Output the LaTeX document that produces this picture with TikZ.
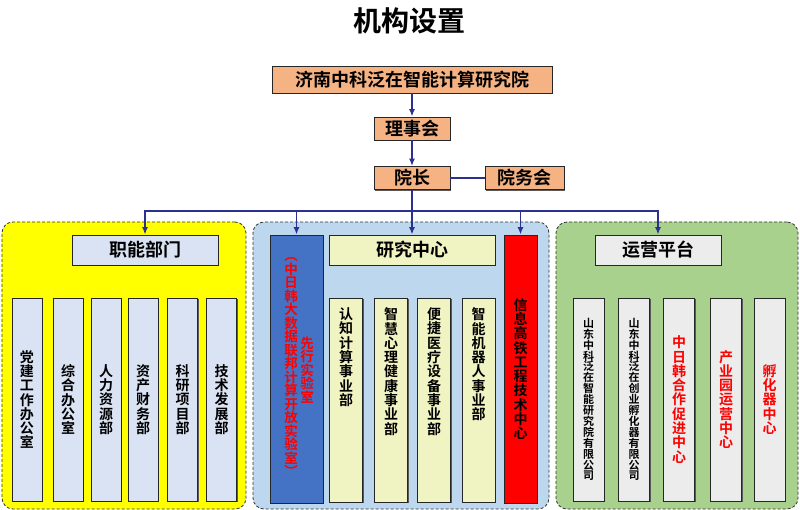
\documentclass[tikz,border=0pt]{standalone}
\usepackage{fontspec}
\setmainfont{Noto Sans CJK SC}[BoldFont={Noto Sans CJK SC Bold}]
\usetikzlibrary{arrows.meta,shadows}
\definecolor{leadorange}{RGB}{245,178,131}
\definecolor{navyline}{RGB}{44,48,142}
\definecolor{fnyellow}{RGB}{255,255,0}
\definecolor{rsblue}{RGB}{189,215,238}
\definecolor{opgreen}{RGB}{169,209,142}
\definecolor{paleblue}{RGB}{218,227,243}
\definecolor{paleyellow}{RGB}{240,243,194}
\definecolor{palegray}{RGB}{236,236,236}
\definecolor{labblue}{RGB}{68,114,196}
\newcommand{\headfont}{\bfseries\fontsize{18}{20}\selectfont}
\newcommand{\colfont}{\bfseries\fontsize{14}{14.3}\selectfont}
\newcommand{\smallcolfont}{\bfseries\fontsize{11}{10.9}\selectfont}
% one character per line
\makeatletter
\def\vt@go{\@tfor\vt@c:=}
\newcommand{\vtxt}[1]{%
  \edef\vt@list{#1}\gdef\vt@sep{}%
  \expandafter\vt@go\vt@list\do{\vt@sep\vt@c\gdef\vt@sep{\\}}}
\makeatother
\tikzset{
  unit/.style={draw=black!85,line width=0.8pt,inner sep=0pt,align=center,
    drop shadow={shadow xshift=1.3pt,shadow yshift=-1.3pt,fill=black!65,opacity=1}},
  lead/.style={unit,fill=leadorange,minimum height=23pt,font=\headfont},
  head/.style={unit,minimum height=30pt,font=\headfont},
  col/.style={unit,minimum width=31pt,minimum height=203pt,text width=16pt,font=\colfont},
  vlabel/.style={inner sep=0pt,align=center,text width=16pt,font=\colfont},
  panel/.style={draw=black!80,line width=0.8pt,dash pattern=on 3pt off 2pt,rounded corners=11pt,minimum height=287pt},
  arr/.style={-{Latex[length=7.5pt,width=6pt]},draw=navyline,line width=1.8pt},
  wire/.style={draw=navyline,line width=2pt}
}
\begin{document}
\begin{tikzpicture}[x=1pt,y=-1pt]
  \useasboundingbox (0,0) rectangle (800,510);
  \node[font=\bfseries\fontsize{28}{30}\selectfont] (title) at (409.5,21) {机构设置};

  % top of the chart
  \node[lead,minimum width=280pt,minimum height=27pt] (inst) at (412,79.5) {济南中科泛在智能计算研究院};
  \node[lead,minimum width=76pt] (board) at (412,128.5) {理事会};
  \node[lead,minimum width=76pt] (dean) at (412,178) {院长};
  \node[lead,minimum width=79pt] (affairs) at (524.5,178) {院务会};

  % the three groups
  \node[panel,fill=fnyellow,minimum width=244pt] (fnpanel) at (124,365.5) {};
  \node[panel,fill=rsblue,minimum width=296pt] (rspanel) at (401,365.5) {};
  \node[panel,fill=opgreen,minimum width=242pt] (oppanel) at (677,365.5) {};

  \node[head,fill=paleblue,minimum width=146pt] (fnhead) at (145,250) {职能部门};
  \node[head,fill=paleyellow,minimum width=166pt] (rshead) at (412,250) {研究中心};
  \node[head,fill=palegray,minimum width=126pt] (ophead) at (658,250) {运营平台};

  \foreach \x/\name [count=\i] in {27/党建工作办公室,68/综合办公室,106/人力资源部,
      143/资产财务部,182.5/科研项目部,221.5/技术发展部}
    \node[col,fill=paleblue,minimum width=30pt] (fn\i) at (\x,399.5) {\vtxt{\name}};

  \node[unit,fill=labblue,minimum width=53pt,minimum height=268pt] (lab) at (296.5,369) {};
  \node[vlabel,text=red,font=\bfseries\fontsize{13.5}{13.5}\selectfont] (labname) at (291,367.5)
    {\vtxt{︵中日韩大数据联邦计算开放实验室︶}};
  \node[vlabel,text=red,font=\bfseries\fontsize{13.5}{13.5}\selectfont] (labtag) at (307,370) {\vtxt{先行实验室}};
  \node[unit,fill=red,minimum width=33pt,minimum height=268pt,text width=16pt,font=\colfont] (rail) at (520.5,369)
    {\vtxt{信息高铁工程技术中心}};

  \foreach \x/\name [count=\i] in {346/认知计算事业部,391/智慧心理健康事业部,
      434/便捷医疗设备事业部,478.5/智能机器人事业部} {
    \node[col,fill=paleyellow,minimum width=33pt,minimum height=204pt] (rs\i) at (\x,400) {};
    \node[vlabel,anchor=north] (rs\i txt) at ([yshift=-10pt]rs\i.north) {\vtxt{\name}};
  }

  \node[col,fill=palegray,font=\smallcolfont] (op1) at (588.5,399.5) {\vtxt{山东中科泛在智能研究院有限公司}};
  \node[col,fill=palegray,font=\smallcolfont] (op2) at (634,399.5) {\vtxt{山东中科泛在创业孵化器有限公司}};
  \foreach \x/\name [count=\i from 3] in {679/中日韩合作促进中心,726/产业园运营中心,769.5/孵化器中心}
    \node[col,fill=palegray,text=red] (op\i) at (\x,399.5) {\vtxt{\name}};

  % connectors
  \coordinate (bus) at (412,211);
  \draw[arr] (inst) -- (board);
  \draw[arr] (board) -- (dean);
  \draw[wire] (dean.east) -- (affairs.west);
  \draw[arr] (dean) -- (rshead);
  \draw[arr] (bus) -| (fnhead.north);
  \draw[arr] (bus) -| (lab.north);
  \draw[arr] (bus) -| (rail.north);
  \draw[arr] (bus) -| (ophead.north);
\end{tikzpicture}
\end{document}
